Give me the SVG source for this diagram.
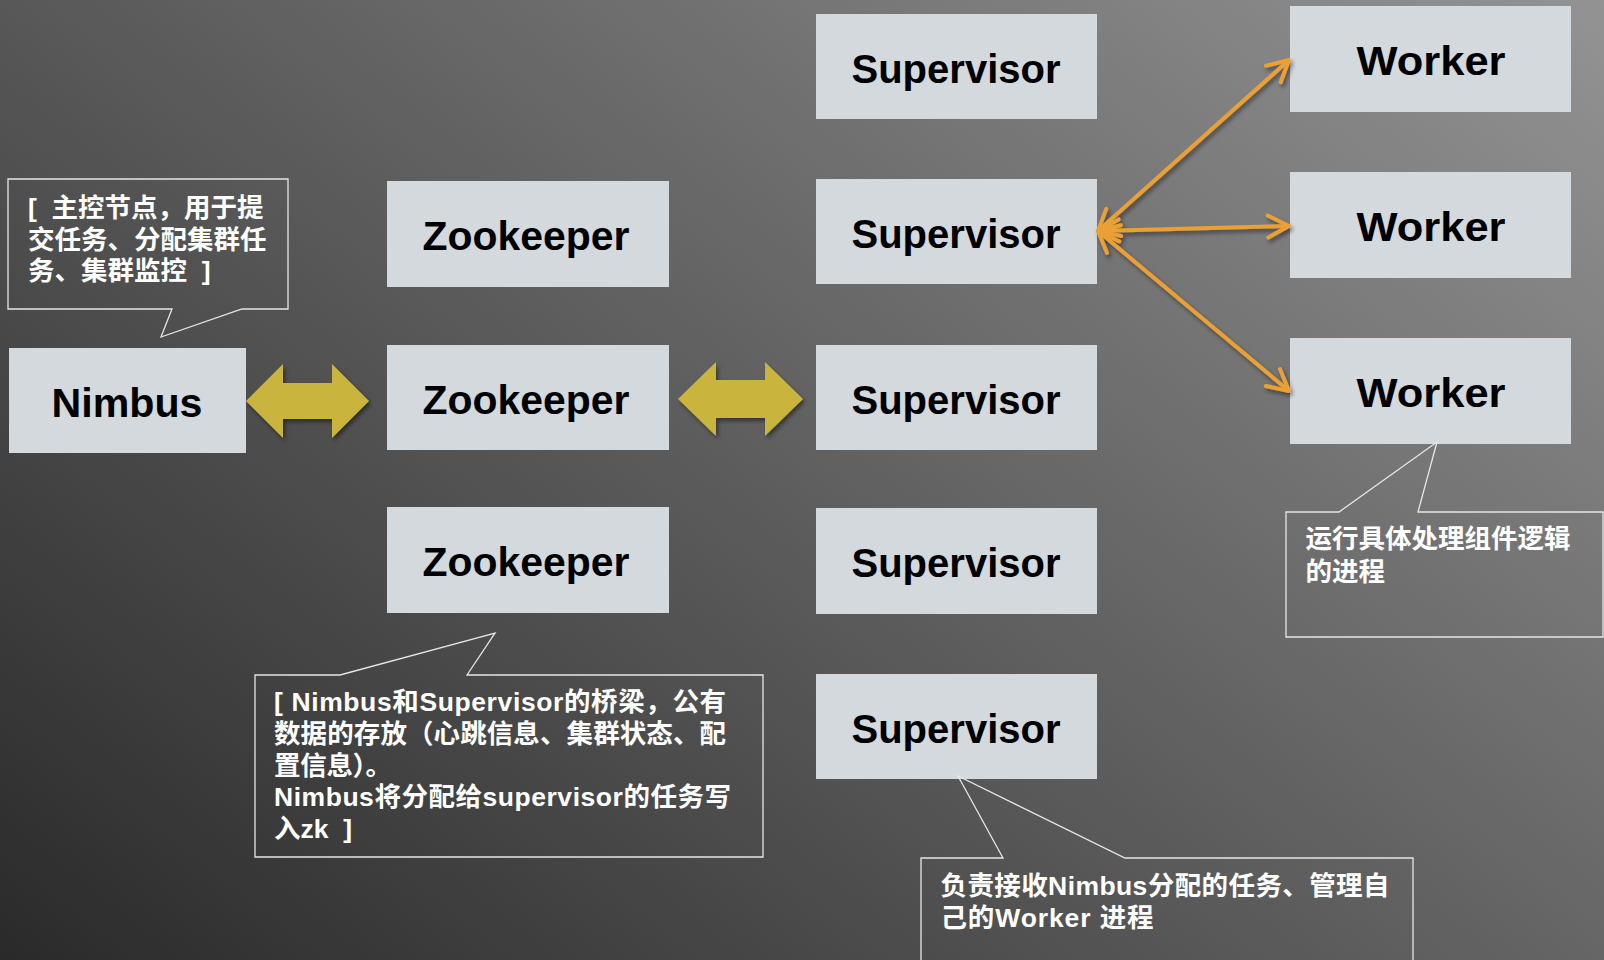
<svg xmlns="http://www.w3.org/2000/svg" width="1604" height="960" viewBox="0 0 1604 960">
<defs>
<linearGradient id="bg" gradientUnits="userSpaceOnUse" x1="0" y1="960" x2="1075" y2="-413">
<stop offset="0" stop-color="#2a2a2a"/>
<stop offset="1" stop-color="#939393"/>
</linearGradient>
<filter id="sh" x="-10%" y="-10%" width="130%" height="130%">
<feDropShadow dx="2" dy="3" stdDeviation="2" flood-color="#000" flood-opacity="0.45"/>
</filter>
<marker id="ah" viewBox="-26 -14 30 28" refX="0" refY="0" markerWidth="30" markerHeight="28" markerUnits="userSpaceOnUse" orient="auto-start-reverse">
<path d="M-21,-11 L0,0 L-21,11" fill="none" stroke="#EBA035" stroke-width="4" stroke-linecap="round" stroke-linejoin="round"/>
</marker>
<style>
.box{fill:#D4D9DE}
.lbl{font-family:"Liberation Sans","Noto Sans CJK SC",sans-serif;font-weight:bold;font-size:40px;fill:#000;text-anchor:middle}
.call{fill:none;stroke:#E6E6E6;stroke-width:1.3}
.ct{font-family:"Liberation Sans","Noto Sans CJK SC",sans-serif;font-weight:bold;font-size:26.5px;fill:#fff}
.dbl{fill:#C9B53C}
.conn{stroke:#EBA035;stroke-width:4;fill:none;marker-start:url(#ah);marker-end:url(#ah)}
</style>
</defs>
<rect x="0" y="0" width="1604" height="960" fill="url(#bg)"/>

<g id="nimbus">
<rect class="box" x="9" y="348" width="237" height="105"/>
<text class="lbl" x="127" y="417" textLength="151" lengthAdjust="spacingAndGlyphs">Nimbus</text>
</g>

<g id="zookeeper1">
<rect class="box" x="387" y="181" width="282" height="106"/>
<text class="lbl" x="526" y="250" textLength="207" lengthAdjust="spacingAndGlyphs">Zookeeper</text>
</g>
<g id="zookeeper2">
<rect class="box" x="387" y="345" width="282" height="105"/>
<text class="lbl" x="526" y="414" textLength="207" lengthAdjust="spacingAndGlyphs">Zookeeper</text>
</g>
<g id="zookeeper3">
<rect class="box" x="387" y="507" width="282" height="106"/>
<text class="lbl" x="526" y="576" textLength="207" lengthAdjust="spacingAndGlyphs">Zookeeper</text>
</g>

<g id="supervisor1">
<rect class="box" x="816" y="14" width="281" height="105"/>
<text class="lbl" x="956" y="83" textLength="209" lengthAdjust="spacingAndGlyphs">Supervisor</text>
</g>
<g id="supervisor2">
<rect class="box" x="816" y="179" width="281" height="105"/>
<text class="lbl" x="956" y="248" textLength="209" lengthAdjust="spacingAndGlyphs">Supervisor</text>
</g>
<g id="supervisor3">
<rect class="box" x="816" y="345" width="281" height="105"/>
<text class="lbl" x="956" y="414" textLength="209" lengthAdjust="spacingAndGlyphs">Supervisor</text>
</g>
<g id="supervisor4">
<rect class="box" x="816" y="508" width="281" height="106"/>
<text class="lbl" x="956" y="577" textLength="209" lengthAdjust="spacingAndGlyphs">Supervisor</text>
</g>
<g id="supervisor5">
<rect class="box" x="816" y="674" width="281" height="105"/>
<text class="lbl" x="956" y="743" textLength="209" lengthAdjust="spacingAndGlyphs">Supervisor</text>
</g>

<g id="worker1">
<rect class="box" x="1290" y="6" width="281" height="106"/>
<text class="lbl" x="1431" y="75" textLength="149" lengthAdjust="spacingAndGlyphs">Worker</text>
</g>
<g id="worker2">
<rect class="box" x="1290" y="172" width="281" height="106"/>
<text class="lbl" x="1431" y="241" textLength="149" lengthAdjust="spacingAndGlyphs">Worker</text>
</g>
<g id="worker3">
<rect class="box" x="1290" y="338" width="281" height="106"/>
<text class="lbl" x="1431" y="407" textLength="149" lengthAdjust="spacingAndGlyphs">Worker</text>
</g>

<g id="connectors">
<g filter="url(#sh)">
<polygon class="dbl" points="246,401 283,364 283,383 332,383 332,364 369,401 332,438 332,419 283,419 283,438"/>
<polygon class="dbl" points="678,399 716,362 716,380 765,380 765,362 803,399 765,436 765,418 716,418 716,436"/>
</g>
<g filter="url(#sh)">
<line class="conn" x1="1098" y1="231" x2="1289" y2="60"/>
<line class="conn" x1="1098" y1="231" x2="1289" y2="226"/>
<line class="conn" x1="1098" y1="231" x2="1289" y2="391"/>
</g>
</g>

<g id="callout-nimbus">
<path class="call" d="M8,179 H288 V309 H242 L161,337 L172,309 H8 Z"/>
<text class="ct" xml:space="preserve"><tspan x="28" y="216.5">[  主控节点，用于提</tspan><tspan x="28" y="248.5">交任务、分配集群任</tspan><tspan x="28" y="280">务、集群监控  ]</tspan></text>
</g>

<g id="callout-zookeeper">
<path class="call" d="M255,675 H340 L495,633 L467,675 H763 V857 H255 Z"/>
<text class="ct" xml:space="preserve"><tspan x="274" y="711" textLength="452">[ Nimbus和Supervisor的桥梁，公有</tspan><tspan x="274" y="743" textLength="452">数据的存放（心跳信息、集群状态、配</tspan><tspan x="274" y="775" textLength="118">置信息）。</tspan><tspan x="274" y="806" textLength="457">Nimbus将分配给supervisor的任务写</tspan><tspan x="274" y="838">入zk  ]</tspan></text>
</g>

<g id="callout-supervisor">
<path class="call" d="M921,975 V858 H1003 L958,776 L1125,858 H1413 V975"/>
<text class="ct" xml:space="preserve"><tspan x="940.5" y="895" textLength="449">负责接收Nimbus分配的任务、管理自</tspan><tspan x="940.5" y="927" textLength="213">己的Worker 进程</tspan></text>
</g>

<g id="callout-worker">
<path class="call" d="M1286,512 H1339 L1437,442 L1418,512 H1603 V637 H1286 Z"/>
<text class="ct" xml:space="preserve"><tspan x="1305.5" y="548">运行具体处理组件逻辑</tspan><tspan x="1305.5" y="581">的进程</tspan></text>
</g>
</svg>
